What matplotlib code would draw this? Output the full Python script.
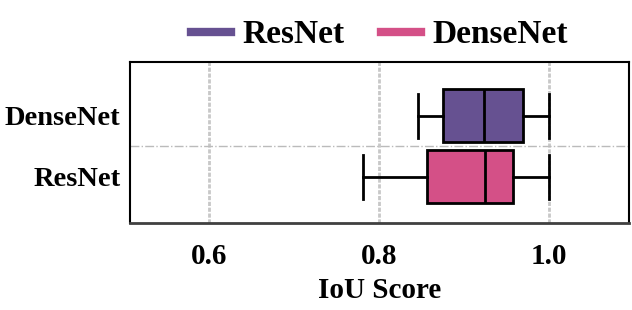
import matplotlib
matplotlib.use("Agg")
import matplotlib.pyplot as plt
from matplotlib.lines import Line2D

plt.rcParams['font.family'] = ['Liberation Serif', 'DejaVu Serif']
plt.rcParams['font.weight'] = 'bold'

# rows from bottom to top
row_labels = ["ResNet", "DenseNet"]
whislo = [0.781, 0.846]
q1 = [0.856, 0.875]
med = [0.925, 0.923]
q3 = [0.958, 0.969]
whishi = [1.0, 1.0]
row_colors = ["#d45087", "#665191"]

legend_labels = ["ResNet", "DenseNet"]
legend_colors = ["#665191", "#d45087"]

xticks = [0.6, 0.8, 1.0]
xtick_labels = ["0.6", "0.8", "1.0"]

fig = plt.figure(figsize=(6.32, 3.10), dpi=100)
ax = fig.add_axes([0.2057, 0.2797, 0.7896, 0.5193])

stats = []
for i in range(len(row_labels)):
    stats.append(dict(whislo=whislo[i], q1=q1[i], med=med[i], q3=q3[i],
                      whishi=whishi[i], fliers=[], label=row_labels[i]))

bp = ax.bxp(stats, positions=range(len(row_labels)), vert=False,
            widths=0.87, patch_artist=True, showfliers=False,
            capwidths=0.72,
            boxprops=dict(linewidth=2, edgecolor='black'),
            whiskerprops=dict(linewidth=2, color='black'),
            capprops=dict(linewidth=2, color='black'),
            medianprops=dict(linewidth=2, color='black'))
for patch, c in zip(bp['boxes'], row_colors):
    patch.set_facecolor(c)
    patch.set_zorder(3)
for k in ['whiskers', 'caps', 'medians']:
    for l in bp[k]:
        l.set_zorder(4)

ax.set_xlim(0.5075, 1.094)
ax.set_ylim(-0.76, 1.877)
ax.set_xticks(xticks)
ax.set_xticklabels(xtick_labels)
ax.set_yticks(range(len(row_labels)))
ax.set_yticklabels(row_labels)
ax.tick_params(axis='x', length=0, labelsize=21, pad=14)
ax.tick_params(axis='y', length=0, labelsize=20.5, pad=7)
for t in ax.get_xticklabels() + ax.get_yticklabels():
    t.set_fontweight('bold')

ax.xaxis.grid(True, color='#c8c8c8', linestyle=(0, (1.5, 0.6)), linewidth=2, zorder=0)
ax.set_axisbelow(True)
ax.axhline(0.5, color='#bbbbbb', linestyle='-.', linewidth=1, zorder=1)

for s in ['top', 'left', 'right']:
    ax.spines[s].set_color('black')
    ax.spines[s].set_linewidth(1.5)
ax.spines['bottom'].set_color('#404040')
ax.spines['bottom'].set_linewidth(2)

ax.set_xlabel("IoU Score", fontsize=21, fontweight='bold', labelpad=5)

handles = [Line2D([0], [0], color=c, linewidth=6) for c in legend_colors]
ax.legend(handles, legend_labels, loc='lower center', bbox_to_anchor=(0.5, 0.95),
          ncol=2, frameon=False, prop=dict(size=24, weight='bold'),
          handlelength=1.2, handletextpad=0.35, columnspacing=1.1,
          borderaxespad=0.2)

fig.savefig("out.png", dpi=100)
